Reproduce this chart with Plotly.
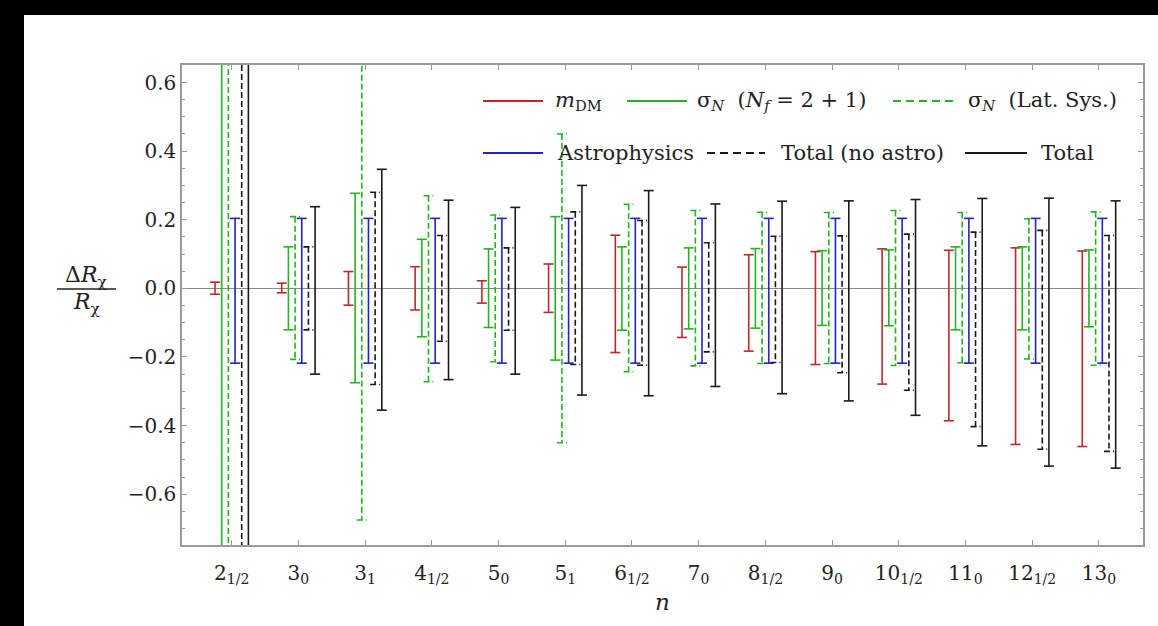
import plotly.graph_objects as go

# n-labels of the resonances on the horizontal axis
tick_labels = ["2<sub>1/2</sub>", "3<sub>0</sub>", "3<sub>1</sub>", "4<sub>1/2</sub>",
               "5<sub>0</sub>", "5<sub>1</sub>", "6<sub>1/2</sub>", "7<sub>0</sub>",
               "8<sub>1/2</sub>", "9<sub>0</sub>", "10<sub>1/2</sub>", "11<sub>0</sub>",
               "12<sub>1/2</sub>", "13<sub>0</sub>"]

# relative uncertainty contributions (upper / lower magnitudes)
m_dm_up = [0.018, 0.015, 0.049, 0.063, 0.022, 0.071, 0.155, 0.062, 0.098, 0.107, 0.115, 0.111, 0.118, 0.109]
m_dm_dn = [0.017, 0.013, 0.049, 0.063, 0.043, 0.070, 0.187, 0.143, 0.183, 0.222, 0.279, 0.386, 0.455, 0.461]

sigma_up = [1.000, 0.121, 0.277, 0.143, 0.115, 0.209, 0.121, 0.118, 0.116, 0.110, 0.112, 0.121, 0.121, 0.112]
sigma_dn = [1.000, 0.121, 0.275, 0.141, 0.114, 0.209, 0.122, 0.118, 0.116, 0.108, 0.109, 0.121, 0.121, 0.112]

lat_up = [1.400, 0.209, 0.675, 0.270, 0.214, 0.450, 0.245, 0.227, 0.222, 0.221, 0.227, 0.221, 0.203, 0.223]
lat_dn = [1.400, 0.207, 0.675, 0.272, 0.214, 0.450, 0.243, 0.226, 0.219, 0.219, 0.225, 0.217, 0.206, 0.224]

astro_up = [0.204, 0.204, 0.204, 0.204, 0.204, 0.204, 0.204, 0.204, 0.204, 0.204, 0.204, 0.204, 0.204, 0.204]
astro_dn = [0.218, 0.218, 0.218, 0.218, 0.218, 0.218, 0.218, 0.218, 0.218, 0.218, 0.218, 0.218, 0.218, 0.218]

noastro_up = [1.700, 0.121, 0.280, 0.154, 0.118, 0.223, 0.198, 0.133, 0.152, 0.153, 0.158, 0.164, 0.169, 0.154]
noastro_dn = [1.700, 0.121, 0.280, 0.154, 0.122, 0.222, 0.224, 0.185, 0.216, 0.246, 0.297, 0.403, 0.469, 0.475]

total_up = [1.800, 0.238, 0.347, 0.257, 0.236, 0.300, 0.285, 0.246, 0.254, 0.255, 0.259, 0.262, 0.263, 0.255]
total_dn = [1.800, 0.250, 0.355, 0.266, 0.250, 0.311, 0.313, 0.286, 0.307, 0.328, 0.370, 0.459, 0.518, 0.524]

FONT = "DejaVu Serif"
TEXT = "#222222"
RED, GREEN, BLUE, BLACK = "#c0282a", "#22b422", "#2222c8", "#1a1a1a"
AXIS_GRAY = "#9a9a9a"
DASH = "6px,3px"
SLOT = 0.1   # horizontal offset between neighbouring bars of a group
CAP = 0.075  # half-width of the error-bar caps

# plot-area geometry in pixels, used to place the hand-built legend
PX_L, PX_R, PX_T, PX_B = 182, 1143, 65, 545


def px_x(px):
    return (px - PX_L) / (PX_R - PX_L)


def px_y(py):
    return (PX_B - py) / (PX_B - PX_T)


def bar_segments(up, dn, slot):
    """Vertical error bar with caps for every category, as one polyline."""
    xs, ys = [], []
    for i, (u, d) in enumerate(zip(up, dn)):
        x = i + (slot - 2.5) * SLOT
        xs += [x, x, None, x - CAP, x + CAP, None, x - CAP, x + CAP, None]
        ys += [u, -d, None, u, u, None, -d, -d, None]
    return xs, ys


# name, data, colour, dash, slot in group, legend sample (line start px, line end px, text px, row y px)
series = [
    ("<i>m</i><sub>DM</sub>", m_dm_up, m_dm_dn, RED, "solid", 0, (483, 543, 553, 101)),
    ("σ<sub><i>N</i></sub>  (<i>N<sub>f</sub></i> = 2 + 1)", sigma_up, sigma_dn, GREEN, "solid", 1, (627, 687, 695, 101)),
    ("σ<sub><i>N</i></sub>  (Lat. Sys.)", lat_up, lat_dn, GREEN, DASH, 2, (893, 953, 966, 101)),
    ("Astrophysics", astro_up, astro_dn, BLUE, "solid", 3, (483, 543, 555, 153)),
    ("Total (no astro)", noastro_up, noastro_dn, BLACK, DASH, 4, (707, 765, 779, 153)),
    ("Total", total_up, total_dn, BLACK, "solid", 5, (965, 1027, 1039, 153)),
]

fig = go.Figure()
for name, up, dn, color, dash, slot, leg in series:
    xs, ys = bar_segments(up, dn, slot)
    fig.add_trace(go.Scatter(
        x=xs, y=ys, mode="lines", name=name, showlegend=False,
        line=dict(color=color, width=1.6, dash=dash),
        hoverinfo="skip",
    ))
    # legend sample line and label
    l0, l1, tx, ty = leg
    fig.add_shape(type="line", xref="paper", yref="paper",
                  x0=px_x(l0), x1=px_x(l1), y0=px_y(ty), y1=px_y(ty),
                  line=dict(color=color, width=2.2, dash="8px,5px" if dash != "solid" else "solid"))
    fig.add_annotation(xref="paper", yref="paper", x=px_x(tx), y=px_y(ty),
                       xanchor="left", yanchor="middle", showarrow=False, text=name,
                       font=dict(family=FONT, size=21, color=TEXT))

fig.update_layout(
    width=1158, height=626,
    margin=dict(l=PX_L, r=1158 - PX_R, t=PX_T, b=626 - PX_B),
    paper_bgcolor="white", plot_bgcolor="white",
    font=dict(family=FONT, size=21, color=TEXT),
    showlegend=False,
    xaxis=dict(
        range=[-0.745, 13.66], tickmode="array",
        tickvals=list(range(len(tick_labels))), ticktext=tick_labels,
        showgrid=False, zeroline=False,
        showline=True, linecolor=AXIS_GRAY, linewidth=1.5, mirror="ticks",
        ticks="inside", ticklen=5, tickcolor=AXIS_GRAY,
        ticklabelstandoff=9,
        tickfont=dict(family=FONT, size=20, color=TEXT),
        title=dict(text="<i>n</i>", font=dict(family=FONT, size=23, color=TEXT), standoff=8),
    ),
    yaxis=dict(
        range=[-0.748, 0.651], tick0=0, dtick=0.2, tickformat=".1f",
        showgrid=False, zeroline=True, zerolinecolor="#8a8a8a", zerolinewidth=1.2,
        showline=True, linecolor=AXIS_GRAY, linewidth=1.5, mirror="ticks",
        ticks="inside", ticklen=5, tickcolor=AXIS_GRAY,
        minor=dict(dtick=0.05, ticks="inside", ticklen=3, tickcolor=AXIS_GRAY),
        tickfont=dict(family=FONT, size=20, color=TEXT),
    ),
)

# y-axis label written as a stacked fraction
fig.add_annotation(xref="paper", yref="paper", x=px_x(86), y=px_y(276), showarrow=False,
                   xanchor="center", yanchor="middle",
                   text="Δ<i>R</i><sub>χ</sub>", font=dict(family=FONT, size=22, color=TEXT))
fig.add_annotation(xref="paper", yref="paper", x=px_x(86), y=px_y(303), showarrow=False,
                   xanchor="center", yanchor="middle",
                   text="<i>R</i><sub>χ</sub>", font=dict(family=FONT, size=22, color=TEXT))
fig.add_shape(type="line", xref="paper", yref="paper", x0=px_x(57), x1=px_x(116),
              y0=px_y(289), y1=px_y(289), line=dict(color=TEXT, width=1.3))

# dark frame along the top and left edges of the canvas
fig.add_shape(type="rect", xref="paper", yref="paper", x0=-0.3, x1=1.1, y0=px_y(15), y1=1.3,
              fillcolor="black", line=dict(width=0), layer="above")
fig.add_shape(type="rect", xref="paper", yref="paper", x0=-0.3, x1=px_x(24), y0=-0.3, y1=1.3,
              fillcolor="black", line=dict(width=0), layer="above")

fig.write_html("out.html")
